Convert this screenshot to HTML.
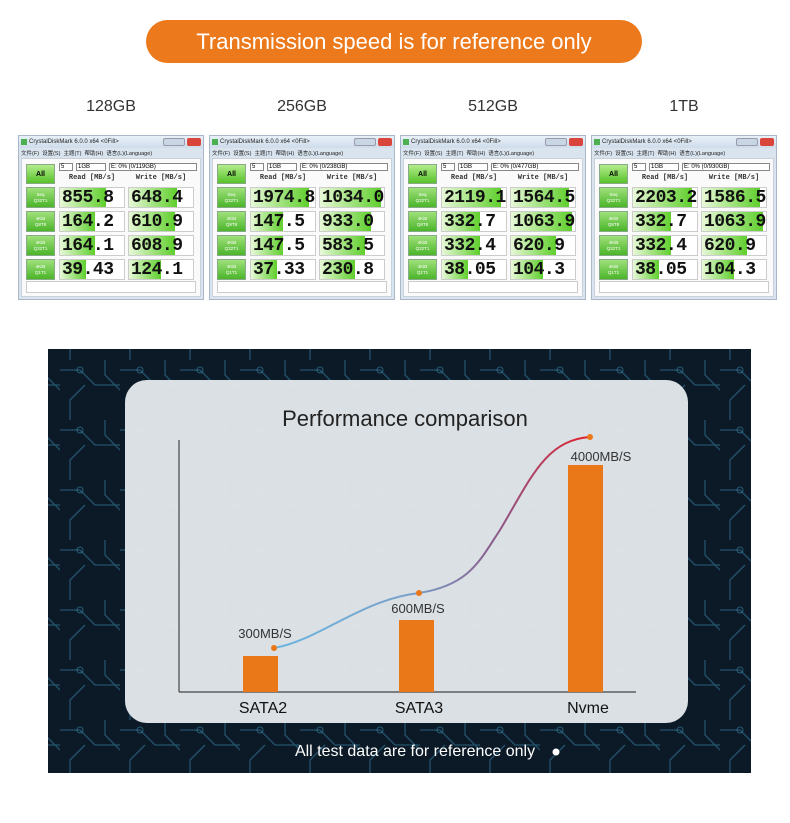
<!DOCTYPE html>
<html><head><meta charset="utf-8"><style>
*{margin:0;padding:0;box-sizing:border-box}
body{width:790px;height:823px;background:#fff;position:relative;overflow:hidden;font-family:"Liberation Sans",sans-serif}
.pill{position:absolute;left:146px;top:20px;width:496px;height:43px;border-radius:22px;background:#ec7a1c;color:#fff;font-size:22px;text-align:center;line-height:43px}
.cap{position:absolute;top:98px;font-size:16px;color:#333;width:186px;text-align:center}
.win{position:absolute;top:135px;width:186px;height:165px;background:#d9e4ef;border:1px solid #a9b8c8}
.tb{position:absolute;left:0;top:0;width:100%;height:12px;font-size:6px;line-height:12px;padding-left:10px;color:#222;background:linear-gradient(#e8f0f8,#cfdcea)}
.tb:before{content:"";position:absolute;left:2px;top:3px;width:6px;height:6px;background:#4caf50}
.tb i{position:absolute;right:2px;top:2px;width:14px;height:8px;background:#d9453a;border-radius:2px}
.tb b{position:absolute;right:18px;top:2px;width:22px;height:8px;background:#c9d6e4;border:1px solid #99a;border-radius:2px}
.mn{position:absolute;left:2px;top:13px;font-size:5.5px;color:#222}
.bd{position:absolute;left:2px;top:22px;width:180px;height:139px;background:#fafafa;border:1px solid #c9d2dc}
.all{position:absolute;left:4px;top:5px;width:29px;height:20px;background:linear-gradient(#b4ec8c,#57c22a);border:1px solid #8a8;font-size:7px;font-weight:bold;text-align:center;line-height:20px}
.sel{position:absolute;top:4px;height:8px;border:1px solid #888;background:#fff;font-size:6px;line-height:7px;padding-left:1px}
.hd{position:absolute;top:15px;font-size:7px;font-weight:bold;color:#333;width:66px;text-align:center;font-family:"Liberation Mono",monospace}
.lb{position:absolute;left:4px;width:29px;height:21px;background:linear-gradient(#9fe07a,#4bb52a);border:1px solid #8a8;font-size:4.5px;color:#fff;text-align:center;line-height:6px;padding-top:4px}
.c{position:absolute;width:66px;height:21px;border:1px solid #ccc;background:#fff;overflow:hidden}
.c s{position:absolute;left:0;top:0;bottom:0;background:linear-gradient(90deg,#e8f8d8,#5fcf2c)}
.c u{position:absolute;left:2px;top:0;text-decoration:none;font-family:"Liberation Mono",monospace;font-weight:bold;font-size:18px;line-height:21px;color:#111;letter-spacing:-0.5px}
.st{position:absolute;left:4px;top:122px;width:170px;height:12px;border:1px solid #ccc;background:#fff}
</style></head><body>
<div class="pill">Transmission speed is for reference only</div>
<div class="cap" style="left:18px">128GB</div>
<div class="cap" style="left:209px">256GB</div>
<div class="cap" style="left:400px">512GB</div>
<div class="cap" style="left:591px">1TB</div>

<div id="w"></div>

<svg style="position:absolute;left:0;top:0" width="790" height="823">
<defs>
<linearGradient id="cg" x1="274" y1="0" x2="590" y2="0" gradientUnits="userSpaceOnUse">
<stop offset="0" stop-color="#6bb6e0"/><stop offset="0.45" stop-color="#7a9fc8"/><stop offset="0.7" stop-color="#8a5a8a"/><stop offset="1" stop-color="#e41f2a"/></linearGradient>
<pattern id="pcb" width="60" height="60" patternUnits="userSpaceOnUse">
<path d="M0 10 H20 L35 25 H60 M10 60 V40 L25 25 M45 0 V15 L60 30" stroke="#2d6a8a" stroke-width="1.3" fill="none" opacity="0.7"/>
<circle cx="20" cy="10" r="3" fill="none" stroke="#3c86a8" opacity="0.6"/>
</pattern>
</defs>
<rect x="48" y="349" width="703" height="424" fill="#0b1a26"/>
<rect x="48" y="349" width="703" height="424" fill="url(#pcb)"/>
<rect x="125" y="380" width="563" height="343" rx="22" fill="#e4e8ec" opacity="0.96"/>
<text x="405" y="426" text-anchor="middle" font-size="22" fill="#222" font-family="Liberation Sans">Performance comparison</text>
<line x1="179" y1="440" x2="179" y2="692" stroke="#444" stroke-width="1.2"/>
<line x1="179" y1="692" x2="636" y2="692" stroke="#444" stroke-width="1.2"/>
<rect x="243" y="656" width="35" height="36" fill="#ea7818"/>
<rect x="399" y="620" width="35" height="72" fill="#ea7818"/>
<rect x="568" y="465" width="35" height="227" fill="#ea7818"/>
<path d="M274 648 C320 640 360 600 419 593 C470 585 480 560 500 530 C530 480 545 440 590 437" stroke="url(#cg)" stroke-width="2" fill="none"/>
<circle cx="274" cy="648" r="3" fill="#ea7818"/><circle cx="419" cy="593" r="3" fill="#ea7818"/><circle cx="590" cy="437" r="3" fill="#ea7818"/>
<g font-family="Liberation Sans" fill="#333" font-size="13">
<text x="265" y="638" text-anchor="middle">300MB/S</text>
<text x="418" y="613" text-anchor="middle">600MB/S</text>
<text x="601" y="461" text-anchor="middle">4000MB/S</text>
</g>
<g font-family="Liberation Sans" fill="#111" font-size="16" text-anchor="middle">
<text x="263" y="713">SATA2</text><text x="419" y="713">SATA3</text><text x="588" y="713">Nvme</text>
</g>
<text x="415" y="756" text-anchor="middle" font-family="Liberation Sans" font-size="16" fill="#fff">All test data are for reference only</text>
<circle cx="556" cy="752" r="3.5" fill="#fff"/>
</svg>

<script>
var D=[[18,"0/119GB",[["855.8",.72],["648.4",.75]],[["164.2",.55],["610.9",.72]],[["164.1",.55],["608.9",.72]],[["39.43",.4],["124.1",.5]]],
[209,"0/238GB",[["1974.8",.9],["1034.0",.95]],[["147.5",.5],["933.0",.8]],[["147.5",.5],["583.5",.7]],[["37.33",.4],["230.8",.55]]],
[400,"0/477GB",[["2119.1",.92],["1564.5",.9]],[["332.7",.6],["1063.9",.95]],[["332.4",.6],["620.9",.7]],[["38.05",.4],["104.3",.5]]],
[591,"0/930GB",[["2203.2",.92],["1586.5",.9]],[["332.7",.6],["1063.9",.95]],[["332.4",.6],["620.9",.7]],[["38.05",.4],["104.3",.5]]]];
var labs=["Seq<br>Q32T1","4KiB<br>Q8T8","4KiB<br>Q32T1","4KiB<br>Q1T1"];
var h="";
D.forEach(function(d){
h+='<div class="win" style="left:'+d[0]+'px"><div class="tb">CrystalDiskMark 6.0.0 x64 &lt;0Fill&gt;<b></b><i></i></div><div class="mn">文件(F)&nbsp; 设置(S)&nbsp; 主题(T)&nbsp; 帮助(H)&nbsp; 语言(L)(Language)</div><div class="bd"><div class="all">All</div>'+
'<div class="sel" style="left:37px;width:14px">5</div><div class="sel" style="left:54px;width:30px">1GB</div><div class="sel" style="left:87px;width:88px">E: 0% ('+d[1]+')</div>'+
'<div class="hd" style="left:37px">Read [MB/s]</div><div class="hd" style="left:106px">Write [MB/s]</div>';
for(var r=0;r<4;r++){var y=28+r*24;var x=d[2+r];
h+='<div class="lb" style="top:'+y+'px">'+labs[r]+'</div>';
h+='<div class="c" style="left:37px;top:'+y+'px"><s style="width:'+(x[0][1]*100)+'%"></s><u>'+x[0][0]+'</u></div>';
h+='<div class="c" style="left:106px;top:'+y+'px"><s style="width:'+(x[1][1]*100)+'%"></s><u>'+x[1][0]+'</u></div>';}
h+='<div class="st"></div></div></div>';});
document.getElementById("w").innerHTML=h;
</script>
</body></html>
